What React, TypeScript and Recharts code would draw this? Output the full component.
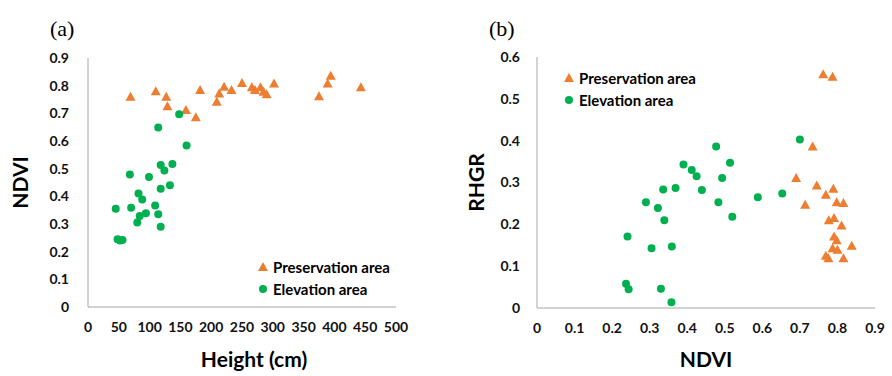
import React from 'react';
import { ScatterChart, Scatter, XAxis, YAxis, Legend } from 'recharts';

// panel (a): height vs NDVI
const presHeight = [69, 110, 127, 129, 159, 175, 182, 209, 213, 221, 233, 250, 266, 271, 280, 285, 290, 302, 375, 389, 394, 443];
const presNdviA = [0.76, 0.78, 0.76, 0.726, 0.712, 0.686, 0.784, 0.742, 0.772, 0.796, 0.784, 0.81, 0.794, 0.784, 0.794, 0.778, 0.769, 0.808, 0.762, 0.808, 0.836, 0.794];
const elevHeight = [45, 48, 52, 56, 68, 70, 80, 82, 84, 88, 94, 99, 109, 114, 114, 118, 118, 118, 124, 133, 137, 148, 160];
const elevNdviA = [0.355, 0.245, 0.24, 0.242, 0.479, 0.359, 0.305, 0.41, 0.329, 0.389, 0.339, 0.47, 0.367, 0.335, 0.649, 0.29, 0.427, 0.513, 0.493, 0.44, 0.517, 0.697, 0.584];

// panel (b): NDVI vs RHGR
const presNdviB = [0.762, 0.787, 0.734, 0.69, 0.714, 0.745, 0.769, 0.789, 0.798, 0.816, 0.777, 0.791, 0.811, 0.791, 0.798, 0.787, 0.8, 0.838, 0.769, 0.776, 0.816];
const presRhgr = [0.559, 0.553, 0.386, 0.311, 0.247, 0.293, 0.271, 0.285, 0.253, 0.251, 0.21, 0.215, 0.197, 0.171, 0.162, 0.143, 0.139, 0.149, 0.125, 0.119, 0.119];
const elevNdviB = [0.39, 0.412, 0.425, 0.336, 0.369, 0.439, 0.29, 0.322, 0.339, 0.241, 0.305, 0.359, 0.237, 0.244, 0.33, 0.358, 0.7, 0.477, 0.514, 0.493, 0.483, 0.52, 0.588, 0.653];
const elevRhgr = [0.343, 0.33, 0.315, 0.283, 0.287, 0.282, 0.253, 0.239, 0.21, 0.171, 0.143, 0.147, 0.058, 0.045, 0.046, 0.014, 0.403, 0.386, 0.347, 0.311, 0.253, 0.218, 0.265, 0.274];

const heightTicks = [0, 50, 100, 150, 200, 250, 300, 350, 400, 450, 500];
const ndviTicks = [0, 0.1, 0.2, 0.3, 0.4, 0.5, 0.6, 0.7, 0.8, 0.9];
const rhgrTicks = [0, 0.1, 0.2, 0.3, 0.4, 0.5, 0.6];

const ORANGE = '#ED7D31';
const GREEN = '#00B050';
const AXIS = '#A6A6A6';
const FONT = 'Lato, "Open Sans", sans-serif';

const toPoints = (xs: number[], ys: number[]) => xs.map((x, i) => ({ x, y: ys[i] }));

const fmt = (v: number) => String(+v.toFixed(1));

const tickStyle = { fontSize: 14, fontWeight: 700, fill: '#111', fontFamily: FONT };
const titleStyle = { fontSize: 21, fontWeight: 700, fill: '#000', fontFamily: FONT };

const Triangle = (props: any) => {
  const { cx, cy } = props;
  if (cx == null || cy == null) return null;
  return <polygon points={`${cx - 5},${cy + 4} ${cx + 5},${cy + 4} ${cx},${cy - 5}`} fill={ORANGE} />;
};

const Dot = (props: any) => {
  const { cx, cy } = props;
  if (cx == null || cy == null) return null;
  return <circle cx={cx} cy={cy} r={4} fill={GREEN} />;
};

const LegendBox = ({ payload }: any) => {
  // preservation (triangle) first, like the figure
  const items = [...(payload || [])].sort((a: any, b: any) => (a.type === 'triangle' ? -1 : 0) - (b.type === 'triangle' ? -1 : 0));
  return (
    <div style={{ fontFamily: FONT, fontWeight: 700, fontSize: 15, color: '#000' }}>
      {items.map((e: any) => (
        <div key={e.value} style={{ display: 'flex', alignItems: 'center', height: 22 }}>
          <svg width={10} height={10} style={{ display: 'block' }}>
            {e.type === 'triangle' ? (
              <polygon points="0,9 10,9 5,0" fill={ORANGE} />
            ) : (
              <circle cx={5} cy={5} r={4} fill={GREEN} />
            )}
          </svg>
          <span style={{ marginLeft: 5, whiteSpace: 'nowrap' }}>{e.value}</span>
        </div>
      ))}
    </div>
  );
};

const panelLabel = (left: number, text: string) => (
  <div
    style={{
      position: 'absolute',
      left,
      top: 17,
      fontFamily: '"Liberation Serif", "DejaVu Serif", serif',
      fontSize: 22,
      lineHeight: '24px',
      color: '#000',
    }}
  >
    {text}
  </div>
);

const axisTitle = (center: number, text: string) => (
  <div
    style={{
      position: 'absolute',
      left: center - 100,
      width: 200,
      top: 346,
      textAlign: 'center',
      fontFamily: FONT,
      fontWeight: 700,
      fontSize: 21,
      lineHeight: '26px',
      color: '#000',
    }}
  >
    {text}
  </div>
);

export default function App() {
  return (
    <div style={{ position: 'absolute', left: 0, top: 0, width: 892, height: 376, background: '#fff', overflow: 'hidden' }}>
      {panelLabel(50, '(a)')}
      {panelLabel(489, '(b)')}

      <div style={{ position: 'absolute', left: 0, top: 0 }}>
        <ScatterChart width={420} height={376} margin={{ top: 58, right: 24, bottom: 0, left: 0 }}>
          <XAxis
            type="number"
            dataKey="x"
            domain={[0, 500]}
            ticks={heightTicks}
            interval={0}
            tickLine={false}
            tickSize={0}
            tickMargin={15}
            height={69}
            axisLine={{ stroke: AXIS }}
            tick={tickStyle}
          />
          <YAxis
            type="number"
            dataKey="y"
            domain={[0, 0.9]}
            ticks={ndviTicks}
            interval={0}
            tickFormatter={fmt}
            tickLine={false}
            tickSize={0}
            tickMargin={19}
            width={88}
            axisLine={{ stroke: AXIS }}
            tick={tickStyle}
            label={{ value: 'NDVI', angle: -90, position: 'insideLeft', offset: 21, textAnchor: 'middle', ...titleStyle }}
          />
          <Legend
            layout="vertical"
            align="center"
            verticalAlign="middle"
            content={<LegendBox />}
            wrapperStyle={{ left: 258, top: 256, width: 'auto' }}
          />
          <Scatter name="Preservation area" data={toPoints(presHeight, presNdviA)} legendType="triangle" fill={ORANGE} shape={Triangle} isAnimationActive={false} />
          <Scatter name="Elevation area" data={toPoints(elevHeight, elevNdviA)} legendType="circle" fill={GREEN} shape={Dot} isAnimationActive={false} />
        </ScatterChart>
      </div>

      <div style={{ position: 'absolute', left: 446, top: 0 }}>
        <ScatterChart width={446} height={376} margin={{ top: 57, right: 17, bottom: 0, left: 0 }}>
          <XAxis
            type="number"
            dataKey="x"
            domain={[0, 0.9]}
            ticks={ndviTicks}
            interval={0}
            tickFormatter={fmt}
            tickLine={false}
            tickSize={0}
            tickMargin={15}
            height={68}
            axisLine={{ stroke: AXIS }}
            tick={tickStyle}
          />
          <YAxis
            type="number"
            dataKey="y"
            domain={[0, 0.6]}
            ticks={rhgrTicks}
            interval={0}
            tickFormatter={fmt}
            tickLine={false}
            tickSize={0}
            tickMargin={17}
            width={91}
            axisLine={{ stroke: AXIS }}
            tick={tickStyle}
            label={{ value: 'RHGR', angle: -90, position: 'insideLeft', offset: 31, textAnchor: 'middle', ...titleStyle }}
          />
          <Legend
            layout="vertical"
            align="center"
            verticalAlign="middle"
            content={<LegendBox />}
            wrapperStyle={{ left: 118, top: 67, width: 'auto' }}
          />
          <Scatter name="Preservation area" data={toPoints(presNdviB, presRhgr)} legendType="triangle" fill={ORANGE} shape={Triangle} isAnimationActive={false} />
          <Scatter name="Elevation area" data={toPoints(elevNdviB, elevRhgr)} legendType="circle" fill={GREEN} shape={Dot} isAnimationActive={false} />
        </ScatterChart>
      </div>

      {axisTitle(254, 'Height (cm)')}
      {axisTitle(706, 'NDVI')}
    </div>
  );
}
